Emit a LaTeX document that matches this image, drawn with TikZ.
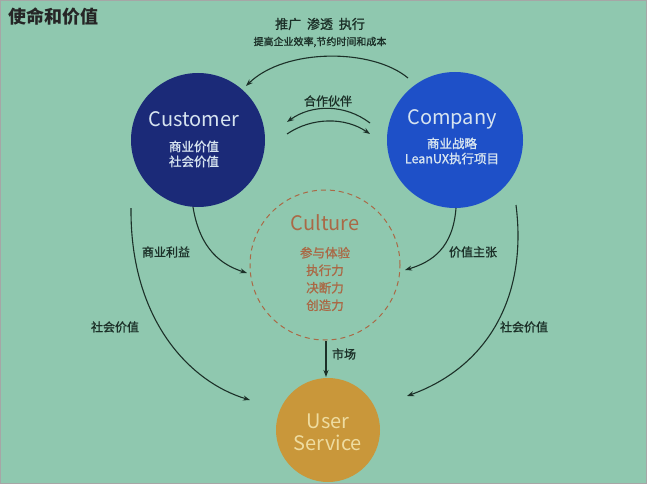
\documentclass[tikz,border=0pt]{standalone}
\usepackage{fontspec}
\setmainfont{Noto Sans CJK SC}
\newfontfamily\medfont{Noto Sans CJK SC}[FakeBold=1.2]
\usetikzlibrary{arrows.meta}
\definecolor{bg}{RGB}{143,200,175}
\definecolor{cust}{RGB}{27,42,120}
\definecolor{comp}{RGB}{30,80,200}
\definecolor{usr}{RGB}{201,151,58}
\definecolor{usrtxt}{RGB}{238,220,160}
\definecolor{cult}{RGB}{170,105,70}
\definecolor{ink}{RGB}{28,48,40}
\definecolor{light}{RGB}{215,228,240}
\tikzset{
  conn/.style={draw=ink, line width=1.1pt, -{Stealth[length=7pt,width=5pt]}},
  lbl/.style={text=ink, font=\medfont\fontsize{12}{12}\selectfont},
  big/.style={font=\fontsize{20}{20}\selectfont},
  small/.style={font=\medfont\fontsize{12.5}{15}\selectfont},
}
\begin{document}
\begin{tikzpicture}[x=1pt,y=-1pt]
\fill[bg] (0,0) rectangle (647,484);
\useasboundingbox (0,0) rectangle (647,484);
\draw[gray!70,line width=0.8pt] (0.5,0.5) rectangle (646.5,483.5);
% title
\node[anchor=west,text=black!85,font=\fontsize{18}{18}\selectfont\bfseries] (title) at (5,17) {使命和价值};
% circles
\node[circle,fill=cust,minimum size=134pt,inner sep=0] (customer) at (198,140) {};
\node[circle,fill=comp,minimum size=136pt,inner sep=0] (company) at (455,140) {};
\node[circle,draw=cult,dashed,dash pattern=on 5pt off 4pt,line width=1pt,minimum size=150pt,inner sep=0] (culture) at (325,265) {};
\node[circle,fill=usr,minimum size=104pt,inner sep=0] (user) at (328,430) {};
% circle texts
\node[text=light,big] (custT) at (194,119) {Customer};
\node[text=light,small,align=center] (custS) at (194,154) {商业价值\\社会价值};
\node[text=light,big] (compT) at (452,119) {Company};
\node[text=light,small,align=center] (compS) at (452,151) {商业战略\\LeanUX执行项目};
\node[text=cult,big] (cultT) at (325,223) {Culture};
\node[text=cult,align=center,font=\medfont\fontsize{12.5}{17.5}\selectfont] (cultS) at (325,279) {参与体验\\执行力\\决断力\\创造力};
\node[text=usrtxt,align=center,font=\fontsize{20}{22}\selectfont] (userT) at (328,432) {User\\Service};
% top texts
\node[lbl,font=\medfont\fontsize{13}{13}\selectfont] (top1) at (320,24) {推广 \ 渗透 \ 执行};
\node[lbl,font=\medfont\fontsize{10}{10}\selectfont] (top2) at (320,42) {提高企业效率,节约时间和成本};
\node[lbl] (partner) at (328,101) {合作伙伴};
% connectors
\coordinate (a1) at (408,78); \coordinate (a2) at (246,86);
\draw[conn] (a1) .. controls (372,48) and (285,48) .. (a2);
\coordinate (p1) at (370,123); \coordinate (p2) at (287,122);
\draw[conn] (p1) .. controls (345,104) and (312,104) .. (p2);
\coordinate (p3) at (287,134); \coordinate (p4) at (370,134);
\draw[conn] (p3) .. controls (312,117) and (345,117) .. (p4);
\coordinate (l1) at (193,207); \coordinate (l2) at (247,273);
\draw[conn] (l1) .. controls (200,250) and (222,265) .. (l2);
\coordinate (r1) at (456,208); \coordinate (r2) at (405,270);
\draw[conn] (r1) .. controls (453,248) and (432,262) .. (r2);
\coordinate (ol1) at (131,208); \coordinate (ol2) at (250,400);
\draw[conn] (ol1) .. controls (130,320) and (190,382) .. (ol2);
\coordinate (or1) at (516,205); \coordinate (or2) at (407,396);
\draw[conn] (or1) .. controls (528,300) and (485,368) .. (or2);
\coordinate (m1) at (326,341); \coordinate (m2) at (326,377);
\draw[conn] (m1) -- (m2);
% labels
\node[lbl] (lb1) at (166,252) {商业利益};
\node[lbl] (lb2) at (115,327) {社会价值};
\node[lbl] (lb3) at (473,252) {价值主张};
\node[lbl] (lb4) at (524,327) {社会价值};
\node[lbl] (lb5) at (344,354) {市场};
\end{tikzpicture}
\end{document}
